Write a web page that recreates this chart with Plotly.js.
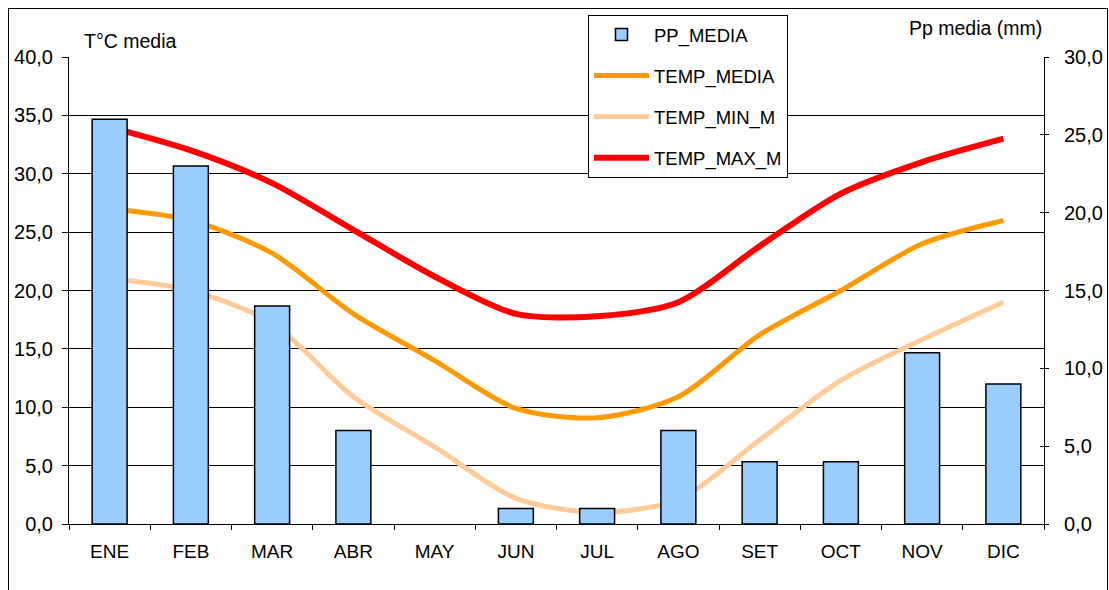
<!DOCTYPE html>
<html><head><meta charset="utf-8">
<script src="https://cdn.plot.ly/plotly-3.0.1.min.js"></script>
<style>
html,body{margin:0;padding:0;overflow:hidden;background:#fff}
#chart{position:absolute;left:0;top:0;width:1109px;height:590px}
#frame{position:absolute;left:8px;top:8px;width:1098px;height:640px;border:1px solid #000;pointer-events:none}
</style></head>
<body><div id="chart"></div><div id="frame"></div>
<script>
const months = ["ENE","FEB","MAR","ABR","MAY","JUN","JUL","AGO","SET","OCT","NOV","DIC"];
const ppMedia = [26, 23, 14, 6, 0, 1, 1, 6, 4, 4, 11, 9];
const tempMedia = [27, 26, 23.2, 18, 14, 9.9, 9.1, 10.9, 16.2, 20, 24, 26];
const tempMin = [21, 20, 17.2, 10.9, 6.6, 2.2, 1.0, 2.1, 7.2, 12.3, 15.8, 19];
const tempMax = [34, 32, 29.2, 25.2, 21.2, 18, 17.8, 19, 23.8, 28.3, 31, 33];

const FONT = "Liberation Sans, Arial, sans-serif";

const traces = [
  {type:"bar", name:"PP_MEDIA", x:months, y:ppMedia, yaxis:"y2", legendgroup:"a",
   marker:{color:"#99CCFF", line:{color:"#000", width:ppMedia.map(v => v === 0 ? 0 : 1.5)}}},
  {type:"scatter", mode:"lines", name:"TEMP_MEDIA", x:months, y:tempMedia, legendgroup:"b",
   line:{color:"#FF9900", width:5, shape:"spline", smoothing:0.8}},
  {type:"scatter", mode:"lines", name:"TEMP_MIN_M", x:months, y:tempMin, legendgroup:"c",
   line:{color:"#FFCC99", width:5, shape:"spline", smoothing:0.8}},
  {type:"scatter", mode:"lines", name:"TEMP_MAX_M", x:months, y:tempMax, legendgroup:"d",
   line:{color:"#FF0000", width:6, shape:"spline", smoothing:0.8}}
];

const layout = {
  width:1109, height:590,
  margin:{l:69, r:65, t:57, b:66},
  paper_bgcolor:"#fff", plot_bgcolor:"#fff",
  separators:",.",
  font:{family:FONT, size:19, color:"#000"},
  bargap:0.57,
  showlegend:true,
  legend:{x:0.5323, y:1.09, xanchor:"left", yanchor:"top", bgcolor:"#fff",
    bordercolor:"#000", borderwidth:1, font:{family:FONT, size:18.5, color:"#000"},
    traceorder:"grouped", tracegroupgap:14, itemwidth:55},
  xaxis:{type:"category", range:[-0.5, 11.5], tickson:"boundaries", ticks:"outside",
    ticklen:5, tickcolor:"#000", showline:true, linecolor:"#000", linewidth:1,
    showgrid:false, zeroline:false, tickfont:{size:19}, ticklabelstandoff:10, fixedrange:true},
  yaxis:{range:[0,40], dtick:5, tick0:0, tickformat:".1f", ticks:"outside", ticklen:6,
    tickcolor:"#000", showline:true, linecolor:"#000", linewidth:1, showgrid:true,
    gridcolor:"#000", gridwidth:1, zeroline:false, tickfont:{size:20}, ticklabelstandoff:5},
  yaxis2:{overlaying:"y", side:"right", range:[0,30], dtick:5, tick0:0, tickformat:".1f",
    ticks:"outside", ticklen:4, tickcolor:"#000", showline:true, linecolor:"#000", linewidth:1,
    showgrid:false, zeroline:false, tickfont:{size:20}, ticklabelstandoff:11},
  yaxis3:{overlaying:"y", side:"right", range:[0,30], dtick:5, tick0:0, ticks:"inside",
    ticklen:4, tickcolor:"#000", showticklabels:false, showgrid:false, showline:false, zeroline:false},
  annotations:[
    {text:"T°C media", xref:"paper", yref:"paper", x:(82-69)/975, y:(524-41)/467,
     xanchor:"left", yanchor:"middle", showarrow:false, font:{size:19.5}},
    {text:"Pp media (mm)", xref:"paper", yref:"paper", x:(1044-69)/975, y:(524-28)/467,
     xanchor:"right", yanchor:"middle", showarrow:false, font:{size:19.5}}
  ]
};

// invisible trace to activate yaxis3 (crossing ticks on the right axis)
traces.push({type:"scatter", mode:"lines", x:months, y:ppMedia.map(()=>null), yaxis:"y3",
  showlegend:false, hoverinfo:"skip"});

Plotly.newPlot("chart", traces, layout, {displayModeBar:false, staticPlot:true});
</script>
</body></html>
